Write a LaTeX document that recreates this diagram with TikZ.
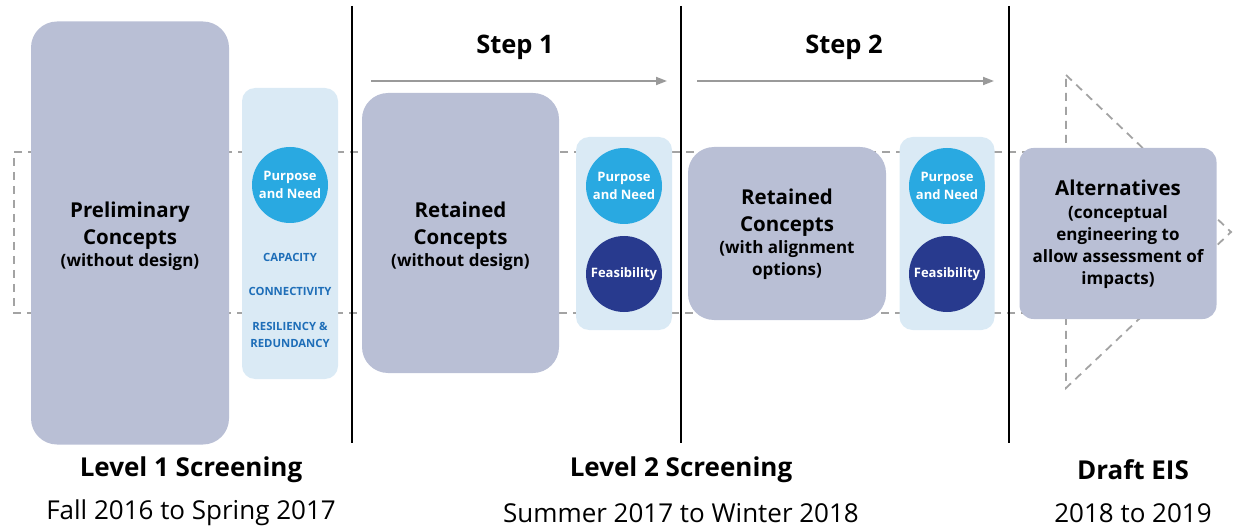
\documentclass[tikz,border=0pt]{standalone}
\usepackage{fontspec}
\setmainfont{Open Sans}
\usetikzlibrary{arrows.meta}
\definecolor{boxfill}{HTML}{B9BFD5}
\definecolor{panelfill}{HTML}{DAEAF5}
\definecolor{pncol}{HTML}{29A9E1}
\definecolor{feacol}{HTML}{283A8E}
\definecolor{crit}{HTML}{1E6EB8}
\definecolor{dashgray}{HTML}{A3A3A3}
\definecolor{arrgray}{HTML}{9A9A9A}
\newcommand\bigT{\fontsize{20.5}{22}\selectfont}
\newcommand\smT{\fontsize{17}{22}\selectfont}
\tikzset{
  conceptbox/.style={fill=boxfill, draw=none, rounded corners=26pt, inner sep=0pt},
  concepttext/.style={align=center, font=\bfseries\fontsize{17}{22}\selectfont},
  panelbox/.style={fill=panelfill, draw=none, rounded corners=13pt, inner sep=0pt},
  pncircle/.style={circle, fill=pncol, minimum size=76pt, inner sep=0pt, text=white, font=\bfseries\fontsize{13}{17.5}\selectfont, align=center},
  feacircle/.style={circle, fill=feacol, minimum size=76pt, inner sep=0pt, text=white, font=\bfseries\fontsize{13}{17}\selectfont, align=center},
  crittext/.style={text=crit, font=\bfseries\fontsize{11.3}{17.5}\selectfont, align=center},
  dashline/.style={draw=dashgray, line width=1.8pt, dash pattern=on 8pt off 6pt},
  divider/.style={draw=black, line width=1.6pt},
  steparrow/.style={draw=arrgray, line width=1.8pt, -{Triangle[length=11pt,width=8pt]}},
  steplabel/.style={font=\bfseries\fontsize{25.5}{30}\selectfont},
  phaselabel/.style={font=\bfseries\fontsize{26}{30}\selectfont},
  datelabel/.style={font=\fontsize{26}{30}\selectfont},
}
\begin{document}
\begin{tikzpicture}[x=1pt,y=-1pt]
\useasboundingbox (0,0) rectangle (1233,529);
% dashed frame
\coordinate (dtl) at (14,152);
\coordinate (dbl) at (14,313);
\coordinate (dtr) at (1030,152);
\coordinate (dbr) at (1030,313);
\draw[dashline] (dtr) -- (dtl) -- (dbl) -- (dbr);
% dashed triangle
\coordinate (tt) at (1066,75);
\coordinate (tb) at (1066,388);
\coordinate (tr) at (1231,232);
\draw[dashline] (tt) -- (tr) -- (tb) -- cycle;
% dividers
\coordinate (v1t) at (352,6); \coordinate (v1b) at (352,443);
\coordinate (v2t) at (681,6); \coordinate (v2b) at (681,443);
\coordinate (v3t) at (1009,6); \coordinate (v3b) at (1009,443);
\draw[divider] (v1t) -- (v1b);
\draw[divider] (v2t) -- (v2b);
\draw[divider] (v3t) -- (v3b);
% step arrows
\node[steplabel] (s1) at (515,47) {Step 1};
\node[steplabel] (s2) at (844,47) {Step 2};
\coordinate (a1s) at (371,81); \coordinate (a1e) at (667,81);
\coordinate (a2s) at (697,81); \coordinate (a2e) at (994,81);
\draw[steparrow] (a1s) -- (a1e);
\draw[steparrow] (a2s) -- (a2e);
% level 1
\node[conceptbox, minimum width=198pt, minimum height=423pt] (pc) at (130,233) {};
\node[concepttext] (pct) at (130,236)
  {\bigT Preliminary\\[5pt] \bigT Concepts\\ \smT (without design)};
\node[panelbox, minimum width=96pt, minimum height=291pt] (p1) at (290,233.5) {};
\node[pncircle] (pn1) at (290,185) {Purpose\\and Need};
\node[crittext] (cap) at (290,257) {CAPACITY};
\node[crittext] (con) at (290,291) {CONNECTIVITY};
\node[crittext] (res) at (290,335) {RESILIENCY \&\\REDUNDANCY};
% step 1
\node[conceptbox, minimum width=197pt, minimum height=280pt] (rc1) at (460.5,233) {};
\node[concepttext] (rc1t) at (460.5,236)
  {\bigT Retained\\[5pt] \bigT Concepts\\ \smT (without design)};
\node[panelbox, minimum width=96pt, minimum height=193pt] (p2) at (624,233.5) {};
\node[pncircle] (pn2) at (624,186) {Purpose\\and Need};
\node[feacircle] (fe2) at (624,274) {Feasibility};
% step 2
\node[conceptbox, minimum width=198pt, minimum height=173pt] (rc2) at (787,233.5) {};
\node[concepttext] (rc2t) at (787,234)
  {\bigT Retained\\[5pt] \bigT Concepts\\ \smT (with alignment\\ \smT options)};
\node[panelbox, minimum width=95pt, minimum height=193pt] (p3) at (947,233.5) {};
\node[pncircle] (pn3) at (947,186) {Purpose\\and Need};
\node[feacircle] (fe3) at (947,274) {Feasibility};
% draft EIS
\node[conceptbox, rounded corners=14pt, minimum width=197pt, minimum height=171pt] (alt) at (1118,233.5) {};
\node[concepttext] (altt) at (1118,234)
  {\bigT Alternatives\\[1pt] \smT (conceptual\\ \smT engineering to\\ \smT allow assessment of\\ \smT impacts)};
% bottom labels
\node[phaselabel] (l1) at (191,470) {Level 1 Screening};
\node[datelabel] (d1) at (191,513) {Fall 2016 to Spring 2017};
\node[phaselabel] (l2) at (681,470) {Level 2 Screening};
\node[datelabel] (d2) at (681,513) {Summer 2017 to Winter 2018};
\node[phaselabel] (l3) at (1133,470) {Draft EIS};
\node[datelabel] (d3) at (1133,513) {2018 to 2019};
\end{tikzpicture}
\end{document}
